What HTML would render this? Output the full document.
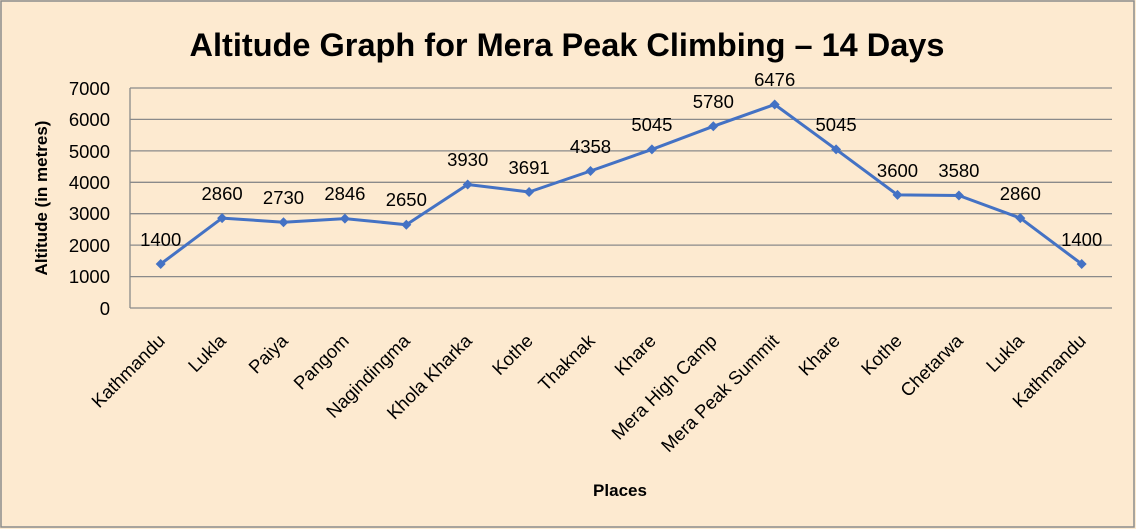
<!DOCTYPE html>
<html><head><meta charset="utf-8"><style>
html,body{margin:0;padding:0;background:#fdebd0;}
svg{display:block;font-family:"Liberation Sans",sans-serif;}
</style></head><body>
<svg width="1136" height="529" viewBox="0 0 1136 529">
<rect x="1" y="1" width="1133" height="526" fill="#fdead0" stroke="#8c8c8c" stroke-width="1.5"/>
<text x="567" y="56" text-anchor="middle" font-size="32.5" font-weight="bold" fill="#000">Altitude Graph for Mera Peak Climbing – 14 Days</text>
<g stroke="#8a8a8a" stroke-width="1.3">
<line x1="130" y1="88" x2="1112" y2="88"/><line x1="130" y1="119.4" x2="1112" y2="119.4"/>
<line x1="130" y1="150.9" x2="1112" y2="150.9"/><line x1="130" y1="182.3" x2="1112" y2="182.3"/>
<line x1="130" y1="213.7" x2="1112" y2="213.7"/><line x1="130" y1="245.1" x2="1112" y2="245.1"/>
<line x1="130" y1="276.6" x2="1112" y2="276.6"/><line x1="130" y1="308" x2="1112" y2="308"/>
<line x1="130" y1="88" x2="130" y2="308"/>
</g>
<g font-size="18.5" text-anchor="end" fill="#000">
<text x="110" y="95">7000</text><text x="110" y="126">6000</text><text x="110" y="158">5000</text>
<text x="110" y="189">4000</text><text x="110" y="220">3000</text><text x="110" y="252">2000</text>
<text x="110" y="283">1000</text><text x="110" y="315">0</text>
</g>
<text transform="translate(47,198) rotate(-90)" text-anchor="middle" font-size="17" font-weight="bold">Altitude (in metres)</text>
<text x="620" y="496" text-anchor="middle" font-size="17" font-weight="bold">Places</text>
<polyline fill="none" stroke="#4472c4" stroke-width="3" stroke-linejoin="round" points="160.7,264 222.1,218.1 283.5,222.2 344.9,218.6 406.3,224.7 467.7,184.5 529.1,192 590.5,171 651.9,149.4 713.3,126.3 774.7,104.5 836.1,149.4 897.5,194.9 958.9,195.5 1020.3,218.1 1081.7,264"/>
<g fill="#4472c4">
<path d="M160.7,259l5,5-5,5-5,-5z"/><path d="M222.1,213.1l5,5-5,5-5,-5z"/><path d="M283.5,217.2l5,5-5,5-5,-5z"/><path d="M344.9,213.6l5,5-5,5-5,-5z"/><path d="M406.3,219.7l5,5-5,5-5,-5z"/><path d="M467.7,179.5l5,5-5,5-5,-5z"/><path d="M529.1,187l5,5-5,5-5,-5z"/><path d="M590.5,166l5,5-5,5-5,-5z"/><path d="M651.9,144.4l5,5-5,5-5,-5z"/><path d="M713.3,121.3l5,5-5,5-5,-5z"/><path d="M774.7,99.5l5,5-5,5-5,-5z"/><path d="M836.1,144.4l5,5-5,5-5,-5z"/><path d="M897.5,189.9l5,5-5,5-5,-5z"/><path d="M958.9,190.5l5,5-5,5-5,-5z"/><path d="M1020.3,213.1l5,5-5,5-5,-5z"/><path d="M1081.7,259l5,5-5,5-5,-5z"/>
</g>
<g font-size="18.5" text-anchor="middle" fill="#000">
<text x="160.7" y="246">1400</text><text x="222.1" y="200">2860</text><text x="283.5" y="204">2730</text><text x="344.9" y="200">2846</text><text x="406.3" y="206">2650</text><text x="467.7" y="166">3930</text><text x="529.1" y="174">3691</text><text x="590.5" y="153">4358</text><text x="651.9" y="131">5045</text><text x="713.3" y="108">5780</text><text x="774.7" y="86">6476</text><text x="836.1" y="131">5045</text><text x="897.5" y="177">3600</text><text x="958.9" y="177">3580</text><text x="1020.3" y="200">2860</text><text x="1081.7" y="246">1400</text>
</g>
<g font-size="18.5" text-anchor="end" fill="#000">
<text transform="translate(166,342) rotate(-45)">Kathmandu</text>
<text transform="translate(227,342) rotate(-45)">Lukla</text>
<text transform="translate(289,342) rotate(-45)">Paiya</text>
<text transform="translate(350,342) rotate(-45)">Pangom</text>
<text transform="translate(411,342) rotate(-45)">Nagindingma</text>
<text transform="translate(473,342) rotate(-45)">Khola Kharka</text>
<text transform="translate(534,342) rotate(-45)">Kothe</text>
<text transform="translate(596,342) rotate(-45)">Thaknak</text>
<text transform="translate(657,342) rotate(-45)">Khare</text>
<text transform="translate(718,342) rotate(-45)">Mera High Camp</text>
<text transform="translate(780,342) rotate(-45)">Mera Peak Summit</text>
<text transform="translate(841,342) rotate(-45)">Khare</text>
<text transform="translate(903,342) rotate(-45)">Kothe</text>
<text transform="translate(964,342) rotate(-45)">Chetarwa</text>
<text transform="translate(1025,342) rotate(-45)">Lukla</text>
<text transform="translate(1087,342) rotate(-45)">Kathmandu</text>
</g>
</svg>
</body></html>
